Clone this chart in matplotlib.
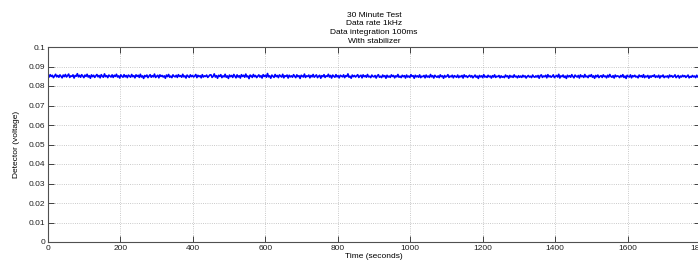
import numpy as np
import matplotlib.pyplot as plt

# Detector trace, one reading every 3 s
sample_step = 3
detector = [
    0.0853, 0.0846, 0.0858, 0.0849, 0.0855, 0.0843, 0.0851, 0.0860, 0.0847, 0.0854, 0.0845, 0.0857, 0.0850, 0.0842, 0.0856,
    0.0848, 0.0859, 0.0846, 0.0853, 0.0861, 0.0844, 0.0852, 0.0849, 0.0857, 0.0841, 0.0854, 0.0850, 0.0863, 0.0847, 0.0855,
    0.0845, 0.0858, 0.0851, 0.0843, 0.0856, 0.0849, 0.0860, 0.0846, 0.0853, 0.0840, 0.0857, 0.0848, 0.0855, 0.0844, 0.0852,
    0.0859, 0.0847, 0.0854, 0.0842, 0.0858, 0.0850, 0.0845, 0.0862, 0.0848, 0.0853, 0.0843, 0.0856, 0.0851, 0.0846, 0.0857,
    0.0844, 0.0855, 0.0849, 0.0860, 0.0846, 0.0852, 0.0841, 0.0857, 0.0850, 0.0845, 0.0858, 0.0847, 0.0854, 0.0843, 0.0856,
    0.0851, 0.0845, 0.0859, 0.0848, 0.0853, 0.0842, 0.0857, 0.0849, 0.0855, 0.0844, 0.0860, 0.0846, 0.0852, 0.0839, 0.0854,
    0.0848, 0.0856, 0.0843, 0.0851, 0.0858, 0.0845, 0.0853, 0.0847, 0.0861, 0.0844, 0.0850, 0.0855, 0.0842, 0.0857, 0.0849,
    0.0854, 0.0846, 0.0852, 0.0840, 0.0856, 0.0848, 0.0859, 0.0845, 0.0851, 0.0843, 0.0857, 0.0850, 0.0847, 0.0855, 0.0844,
    0.0858, 0.0849, 0.0853, 0.0845, 0.0860, 0.0847, 0.0852, 0.0841, 0.0856, 0.0850, 0.0844, 0.0857, 0.0848, 0.0854, 0.0846,
    0.0851, 0.0859, 0.0843, 0.0855, 0.0848, 0.0853, 0.0842, 0.0858, 0.0846, 0.0852, 0.0849, 0.0856, 0.0844, 0.0850, 0.0857,
    0.0857, 0.0844, 0.0850, 0.0862, 0.0846, 0.0853, 0.0840, 0.0855, 0.0849, 0.0858, 0.0843, 0.0852, 0.0847, 0.0860, 0.0845,
    0.0852, 0.0839, 0.0856, 0.0848, 0.0854, 0.0844, 0.0859, 0.0850, 0.0842, 0.0857, 0.0846, 0.0853, 0.0841, 0.0858, 0.0849,
    0.0855, 0.0845, 0.0861, 0.0847, 0.0851, 0.0838, 0.0856, 0.0852, 0.0844, 0.0859, 0.0848, 0.0854, 0.0843, 0.0850, 0.0857,
    0.0846, 0.0853, 0.0841, 0.0858, 0.0849, 0.0855, 0.0845, 0.0864, 0.0847, 0.0852, 0.0840, 0.0856, 0.0850, 0.0844, 0.0859,
    0.0848, 0.0854, 0.0843, 0.0857, 0.0851, 0.0846, 0.0860, 0.0842, 0.0853, 0.0849, 0.0856, 0.0841, 0.0855, 0.0847, 0.0852,
    0.0845, 0.0858, 0.0850, 0.0843, 0.0857, 0.0848, 0.0853, 0.0839, 0.0855, 0.0851, 0.0846, 0.0861, 0.0844, 0.0852, 0.0849,
    0.0856, 0.0842, 0.0854, 0.0847, 0.0859, 0.0845, 0.0851, 0.0857, 0.0843, 0.0850, 0.0855, 0.0840, 0.0853, 0.0848, 0.0858,
    0.0844, 0.0852, 0.0849, 0.0860, 0.0846, 0.0854, 0.0841, 0.0856, 0.0850, 0.0845, 0.0858, 0.0847, 0.0853, 0.0842, 0.0855,
    0.0851, 0.0847, 0.0857, 0.0843, 0.0853, 0.0849, 0.0862, 0.0845, 0.0850, 0.0840, 0.0856, 0.0848, 0.0854, 0.0846, 0.0852,
    0.0858, 0.0844, 0.0851, 0.0855, 0.0842, 0.0857, 0.0848, 0.0853, 0.0845, 0.0859, 0.0847, 0.0850, 0.0843, 0.0856, 0.0849,
    0.0847, 0.0854, 0.0841, 0.0852, 0.0858, 0.0845, 0.0850, 0.0843, 0.0856, 0.0848, 0.0853, 0.0840, 0.0855, 0.0846, 0.0851,
    0.0844, 0.0857, 0.0849, 0.0854, 0.0842, 0.0852, 0.0847, 0.0859, 0.0845, 0.0850, 0.0843, 0.0855, 0.0848, 0.0853, 0.0841,
    0.0856, 0.0846, 0.0851, 0.0844, 0.0858, 0.0849, 0.0853, 0.0840, 0.0855, 0.0847, 0.0852, 0.0845, 0.0857, 0.0843, 0.0850,
    0.0848, 0.0854, 0.0842, 0.0856, 0.0846, 0.0851, 0.0844, 0.0859, 0.0847, 0.0853, 0.0841, 0.0855, 0.0849, 0.0845, 0.0852,
    0.0843, 0.0857, 0.0848, 0.0852, 0.0840, 0.0854, 0.0846, 0.0850, 0.0858, 0.0844, 0.0851, 0.0847, 0.0855, 0.0842, 0.0853,
    0.0849, 0.0845, 0.0856, 0.0843, 0.0851, 0.0847, 0.0854, 0.0841, 0.0857, 0.0848, 0.0852, 0.0844, 0.0850, 0.0855, 0.0846,
    0.0853, 0.0842, 0.0849, 0.0856, 0.0845, 0.0851, 0.0839, 0.0854, 0.0847, 0.0852, 0.0843, 0.0858, 0.0846, 0.0850, 0.0844,
    0.0855, 0.0847, 0.0851, 0.0841, 0.0853, 0.0846, 0.0857, 0.0844, 0.0850, 0.0848, 0.0854, 0.0842, 0.0852, 0.0845, 0.0849,
    0.0843, 0.0856, 0.0848, 0.0852, 0.0840, 0.0854, 0.0846, 0.0851, 0.0844, 0.0857, 0.0847, 0.0850, 0.0842, 0.0853, 0.0845,
    0.0851, 0.0844, 0.0855, 0.0847, 0.0852, 0.0841, 0.0849, 0.0854, 0.0846, 0.0850, 0.0843, 0.0856, 0.0848, 0.0845, 0.0852,
    0.0846, 0.0854, 0.0840, 0.0853, 0.0857, 0.0844, 0.0851, 0.0848, 0.0855, 0.0842, 0.0858, 0.0847, 0.0852, 0.0845, 0.0850,
    0.0857, 0.0843, 0.0849, 0.0854, 0.0846, 0.0860, 0.0841, 0.0852, 0.0848, 0.0856, 0.0844, 0.0851, 0.0839, 0.0855, 0.0847,
    0.0853, 0.0845, 0.0858, 0.0849, 0.0842, 0.0856, 0.0850, 0.0846, 0.0854, 0.0841, 0.0857, 0.0848, 0.0852, 0.0844, 0.0859,
    0.0847, 0.0851, 0.0843, 0.0855, 0.0849, 0.0858, 0.0845, 0.0852, 0.0840, 0.0854, 0.0847, 0.0856, 0.0843, 0.0850, 0.0853,
    0.0844, 0.0857, 0.0848, 0.0851, 0.0842, 0.0855, 0.0846, 0.0859, 0.0849, 0.0845, 0.0853, 0.0841, 0.0856, 0.0848, 0.0852,
    0.0850, 0.0843, 0.0854, 0.0847, 0.0858, 0.0844, 0.0851, 0.0839, 0.0855, 0.0849, 0.0846, 0.0857, 0.0842, 0.0853, 0.0848,
    0.0855, 0.0846, 0.0850, 0.0842, 0.0856, 0.0848, 0.0853, 0.0845, 0.0858, 0.0843, 0.0851, 0.0847, 0.0854, 0.0840, 0.0852,
    0.0845, 0.0853, 0.0849, 0.0857, 0.0844, 0.0851, 0.0846, 0.0855, 0.0841, 0.0852, 0.0848, 0.0856, 0.0843, 0.0850, 0.0847,
    0.0852, 0.0842, 0.0856, 0.0848, 0.0853, 0.0845, 0.0850, 0.0857, 0.0843, 0.0849, 0.0854, 0.0841, 0.0851, 0.0846, 0.0855,
    0.0848, 0.0853, 0.0844, 0.0850, 0.0856, 0.0842, 0.0849, 0.0845, 0.0854, 0.0847, 0.0851, 0.0843, 0.0855, 0.0846, 0.0850,
]
time = np.arange(len(detector)) * sample_step

x_ticks = [0, 200, 400, 600, 800, 1000, 1200, 1400, 1600, 1800]
y_ticks = [0, 0.01, 0.02, 0.03, 0.04, 0.05, 0.06, 0.07, 0.08, 0.09, 0.1]
y_labels = ['0', '0.01', '0.02', '0.03', '0.04', '0.05', '0.06', '0.07', '0.08', '0.09', '0.1']

plt.rcParams['font.family'] = ['Liberation Sans', 'DejaVu Sans']
plt.rcParams['font.size'] = 6

fig = plt.figure(figsize=(6.98, 2.6), dpi=100)
ax = fig.add_axes([48 / 698, 1 - 242 / 260, 652 / 698, 195 / 260])

ax.plot(time, detector, color='#0000ff', linewidth=1.2)

ax.set_xlim(0, 1800)
ax.set_ylim(0, 0.1)
ax.set_xticks(x_ticks)
ax.set_yticks(y_ticks)
ax.set_yticklabels(y_labels)

ax.grid(True, color='#b8b8b8', linestyle=':', linewidth=0.6)
ax.tick_params(direction='in', length=4, width=0.7, top=True, right=True,
               colors='#404040', labelcolor='#202020', pad=2)
for s in ax.spines.values():
    s.set_color('#505050')
    s.set_linewidth(0.8)

ax.set_xlabel('Time (seconds)', labelpad=1)
ax.set_ylabel('Detector (voltage)', labelpad=6)
ax.set_title('30 Minute Test\nData rate 1kHz\nData integration 100ms\nWith stabilizer',
             fontsize=6, linespacing=1.35, pad=3)

fig.savefig('out.png', dpi=100)
